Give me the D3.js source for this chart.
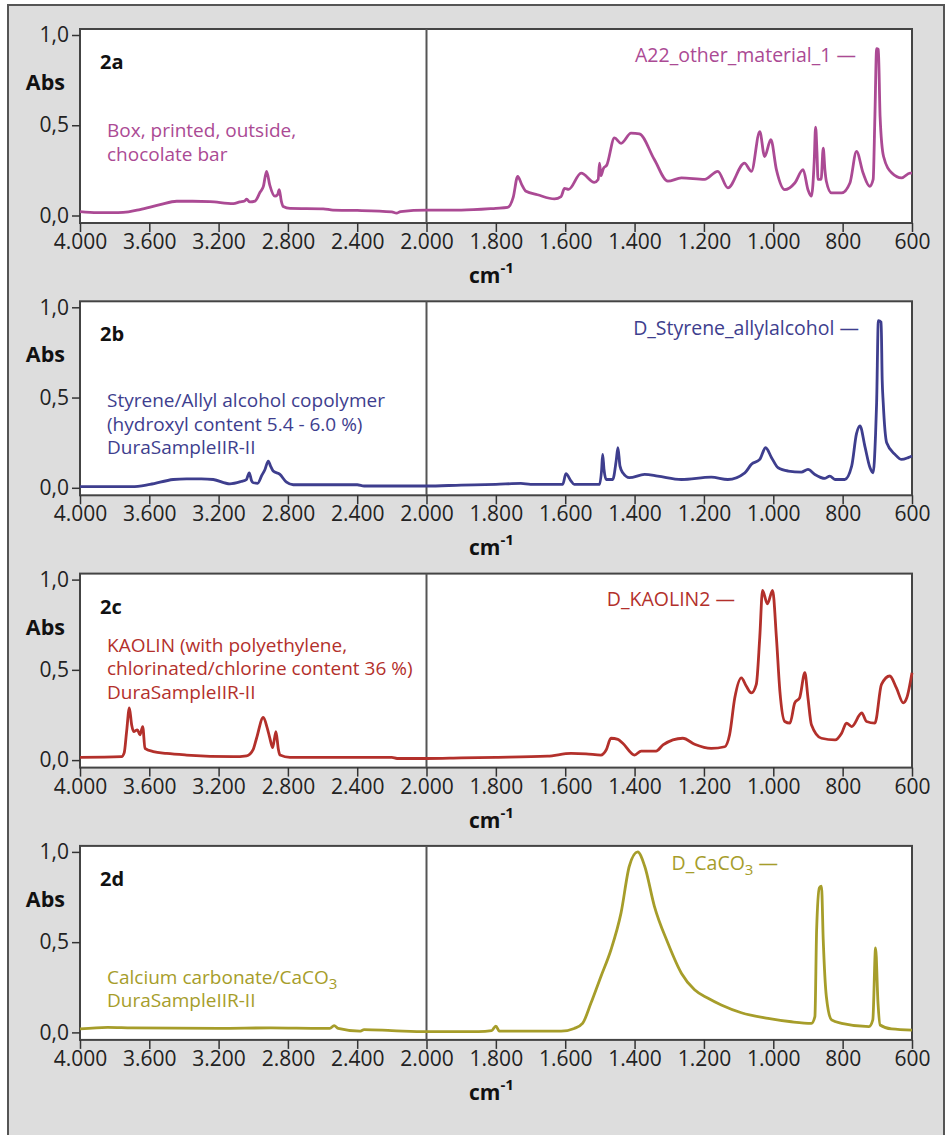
<!DOCTYPE html>
<meta charset="utf-8">
<style>
body { margin: 0; background: #fff; }
text { font-family: "Open Sans", sans-serif; }
.tick-label { font-size: 21px; fill: #222; }
.bold { font-weight: 700; fill: #111; }
</style>
<body>
<svg id="chart" width="950" height="1135"></svg>
<script src="https://cdn.jsdelivr.net/npm/d3@7"></script>
<script>
// ---- data ----
var xTicks = [4000, 3600, 3200, 2800, 2400, 2000, 1800, 1600, 1400, 1200, 1000, 800, 600];
var yTicks = [0, 0.5, 1.0];
var panelIds = ["2a", "2b", "2c", "2d"];
var legendNames = ["A22_other_material_1", "D_Styrene_allylalcohol", "D_KAOLIN2", "D_CaCO"];
var sampleLabels = [
  ["Box, printed, outside,", "chocolate bar"],
  ["Styrene/Allyl alcohol copolymer", "(hydroxyl content 5.4 - 6.0 %)", "DuraSampleIIR-II"],
  ["KAOLIN (with polyethylene,", "chlorinated/chlorine content 36 %)", "DuraSampleIIR-II"],
  ["Calcium carbonate/CaCO", "DuraSampleIIR-II"]
];

var spectrumA = [[4000,0.022],[3900,0.016],[3780,0.016],[3720,0.02],[3654,0.033],[3538,0.06],[3442,0.079],[3350,0.079],
  [3250,0.077],[3115,0.066],[3077,0.075],[3050,0.08],[3038,0.09],[3020,0.075],[2990,0.08],[2960,0.13],[2942,0.16],
  [2923,0.245],[2905,0.17],[2875,0.107],[2860,0.115],[2850,0.143],[2838,0.08],[2827,0.05],[2788,0.039],[2596,0.037],
  [2540,0.03],[2400,0.028],[2200,0.02],[2173,0.013],[2150,0.022],[2000,0.03],
  [1900,0.03],[1800,0.04],[1766,0.045],[1750,0.1],[1737,0.217],[1725,0.17],[1713,0.134],[1680,0.115],[1631,0.092],
  [1612,0.105],[1602,0.15],[1590,0.145],[1554,0.235],[1516,0.184],[1505,0.2],[1501,0.29],[1497,0.22],[1490,0.26],
  [1480,0.28],[1458,0.43],[1439,0.40],[1410,0.456],[1386,0.452],[1343,0.31],[1304,0.19],[1265,0.208],[1198,0.2],
  [1160,0.245],[1131,0.153],[1083,0.29],[1063,0.245],[1039,0.465],[1025,0.327],[1007,0.42],[991,0.254],[967,0.143],
  [938,0.18],[914,0.254],[900,0.143],[890,0.107],[882,0.3],[878,0.49],[874,0.35],[871,0.2],[862,0.2],[856,0.373],
  [851,0.25],[847,0.19],[832,0.125],[803,0.125],[779,0.18],[760,0.355],[741,0.235],[722,0.162],[712,0.2],[707,0.548],
  [702,0.925],[697,0.92],[692,0.548],[682,0.327],[658,0.235],[630,0.208],[606,0.235],[600,0.235]];

var spectrumB = [[4000,0.006],[3700,0.006],[3596,0.019],[3462,0.046],[3385,0.05],[3300,0.05],[3231,0.046],[3135,0.022],
  [3070,0.035],[3040,0.045],[3023,0.083],[3010,0.04],[3000,0.028],[2975,0.025],[2950,0.07],[2933,0.10],[2913,0.148],
  [2900,0.12],[2885,0.093],[2846,0.074],[2808,0.031],[2769,0.017],[2400,0.017],[2360,0.01],[2000,0.01],
  [1900,0.015],[1800,0.019],[1728,0.024],[1700,0.019],[1607,0.019],[1598,0.078],[1583,0.037],[1574,0.019],[1501,0.019],
  [1495,0.1],[1492,0.185],[1488,0.1],[1482,0.046],[1463,0.046],[1453,0.15],[1448,0.222],[1442,0.12],[1434,0.083],
  [1415,0.056],[1371,0.074],[1333,0.065],[1265,0.046],[1179,0.059],[1131,0.046],[1082,0.083],[1063,0.13],[1039,0.157],
  [1022,0.222],[1005,0.167],[986,0.111],[957,0.093],[919,0.087],[900,0.102],[880,0.074],[851,0.052],[837,0.065],
  [822,0.046],[794,0.046],[774,0.12],[760,0.3],[750,0.343],[736,0.231],[721,0.111],[712,0.083],[705,0.3],[702,0.472],
  [697,0.926],[689,0.917],[686,0.6],[683,0.472],[673,0.25],[649,0.185],[630,0.157],[611,0.167],[600,0.176]];

var spectrumC = [[4000,0.015],[3760,0.019],[3745,0.04],[3731,0.158],[3715,0.289],[3702,0.196],[3690,0.158],[3669,0.168],
  [3654,0.14],[3638,0.186],[3625,0.065],[3577,0.047],[3500,0.037],[3385,0.028],[3115,0.019],[3038,0.024],[3000,0.06],
  [2981,0.121],[2942,0.237],[2920,0.18],[2904,0.121],[2888,0.069],[2869,0.158],[2855,0.06],[2846,0.028],[2788,0.015],
  [2200,0.015],[2170,0.009],[2000,0.009],
  [1900,0.012],[1800,0.015],[1651,0.022],[1583,0.037],[1540,0.035],[1497,0.028],[1482,0.056],[1468,0.121],[1448,0.115],
  [1434,0.093],[1400,0.028],[1381,0.05],[1338,0.05],[1318,0.084],[1261,0.121],[1227,0.088],[1179,0.065],[1140,0.074],
  [1126,0.14],[1111,0.345],[1092,0.456],[1078,0.41],[1063,0.372],[1049,0.419],[1039,0.68],[1031,0.94],[1017,0.866],
  [1002,0.94],[991,0.68],[981,0.382],[967,0.214],[952,0.205],[938,0.317],[924,0.345],[909,0.484],[900,0.345],[890,0.196],
  [861,0.121],[822,0.112],[803,0.149],[789,0.205],[774,0.186],[745,0.261],[731,0.214],[707,0.205],[688,0.419],
  [664,0.466],[645,0.4],[625,0.317],[615,0.345],[600,0.484]];

var spectrumD = [[4000,0.019],[3840,0.028],[3700,0.025],[3200,0.022],[2900,0.025],[2600,0.022],[2558,0.022],[2533,0.037],
  [2510,0.022],[2385,0.007],[2360,0.015],[2200,0.01],[2000,0.004],
  [1850,0.004],[1812,0.01],[1800,0.035],[1790,0.007],[1612,0.007],[1574,0.022],[1550,0.05],[1526,0.161],[1497,0.31],
  [1468,0.458],[1439,0.662],[1415,0.922],[1391,1.0],[1371,0.922],[1343,0.7],[1304,0.495],[1265,0.328],[1227,0.236],
  [1188,0.189],[1150,0.152],[1092,0.109],[1015,0.078],[948,0.059],[890,0.05],[880,0.087],[875,0.57],[867,0.801],
  [861,0.81],[856,0.514],[847,0.199],[832,0.069],[803,0.05],[724,0.032],[713,0.069],[705,0.468],[698,0.161],[692,0.041],
  [659,0.019],[600,0.013]];

var spectra = [spectrumA, spectrumB, spectrumC, spectrumD];
var colors = ["#ab4a94", "#3e3e8e", "#b3302b", "#a69d2a"];

// ---- layout ----
var svg = d3.select("#chart");
var plotLeft = 80, plotRight = 912, plotBreak = 426.5, plotH = 194;
var legendRight = [856, 859, 735, 778];
var legendDy = [26, 27, 25, 17];
var labelY = [108, 106, 78, 138];

var de = d3.formatLocale({decimal: ",", thousands: ".", grouping: [3], currency: ["", "€"]});
var fmtX = de.format(",d"), fmtY = de.format(".1f");

// wavenumber axis is split at 2000: right half has double scale
var x = d3.scaleLinear().domain([4000, 2000, 600]).range([plotLeft, plotBreak, plotRight]);

svg.append("rect").attr("x", 8).attr("y", 5).attr("width", 936).attr("height", 1140)
  .attr("fill", "#dddddd").attr("stroke", "#555").attr("stroke-width", 2);

spectra.forEach(function(data, i) {
  var top = 29 + i * 272.3;
  var y = d3.scaleLinear().domain([0, 1]).range([top + 186.5, top + 6]);
  var g = svg.append("g");

  g.append("rect").attr("x", plotLeft).attr("y", top).attr("width", plotRight - plotLeft).attr("height", plotH)
    .attr("fill", "#fff").attr("stroke", "#444").attr("stroke-width", 2);

  g.append("line").attr("x1", x(2000)).attr("x2", x(2000)).attr("y1", top).attr("y2", top + plotH)
    .attr("stroke", "#555").attr("stroke-width", 2);

  // y axis
  var ya = g.append("g").attr("transform", "translate(" + plotLeft + ",0)")
    .call(d3.axisLeft(y).tickValues(yTicks).tickFormat(fmtY).tickSize(8).tickPadding(3));
  ya.select(".domain").remove();
  ya.selectAll("line").attr("stroke", "#333").attr("stroke-width", 1.5);
  ya.selectAll("text").attr("class", "tick-label").attr("font-size", null).attr("font-family", null);

  // x axis
  var xa = g.append("g").attr("transform", "translate(0," + (top + plotH) + ")")
    .call(d3.axisBottom(x).tickValues(xTicks).tickFormat(fmtX).tickSize(9).tickPadding(2));
  xa.select(".domain").remove();
  xa.selectAll("line").attr("stroke", "#333").attr("stroke-width", 1.5);
  xa.selectAll("text").attr("class", "tick-label").attr("font-size", null).attr("font-family", null);

  var line = d3.line().x(function(d) { return x(d[0]); }).y(function(d) { return y(d[1]); })
    .curve(d3.curveMonotoneX);
  g.append("path").datum(data).attr("d", line).attr("fill", "none")
    .attr("stroke", colors[i]).attr("stroke-width", 2.8).attr("stroke-linejoin", "round");

  g.append("text").attr("class", "bold").attr("x", 100).attr("y", top + 40).attr("font-size", 20).text(panelIds[i]);
  g.append("text").attr("class", "bold").attr("x", 65).attr("y", top + 61).attr("font-size", 21.5)
    .attr("text-anchor", "end").text("Abs");

  var cm = g.append("text").attr("class", "bold").attr("x", 469).attr("y", top + plotH + 60).attr("font-size", 21);
  cm.append("tspan").text("cm");
  cm.append("tspan").attr("dy", -10).attr("font-size", 15).text("-1");

  // legend entry
  var lg = g.append("text").attr("x", legendRight[i]).attr("y", top + legendDy[i] + 7)
    .attr("text-anchor", "end").attr("font-size", 19.5).attr("fill", colors[i]);
  lg.append("tspan").text(legendNames[i]);
  if (i === 3) {
    lg.append("tspan").attr("dy", 5).attr("font-size", 15).text("3");
    lg.append("tspan").attr("dy", -5).text(" \u2014");
  } else {
    lg.append("tspan").text(" \u2014");
  }

  // sample description
  sampleLabels[i].forEach(function(s, k) {
    var t = g.append("text").attr("x", 107).attr("y", top + labelY[i] + k * 23.5)
      .attr("font-size", 19).attr("fill", colors[i]);
    t.append("tspan").text(s);
    if (i === 3 && k === 0) t.append("tspan").attr("dy", 5).attr("font-size", 15).text("3");
  });
});
</script>
</body>
